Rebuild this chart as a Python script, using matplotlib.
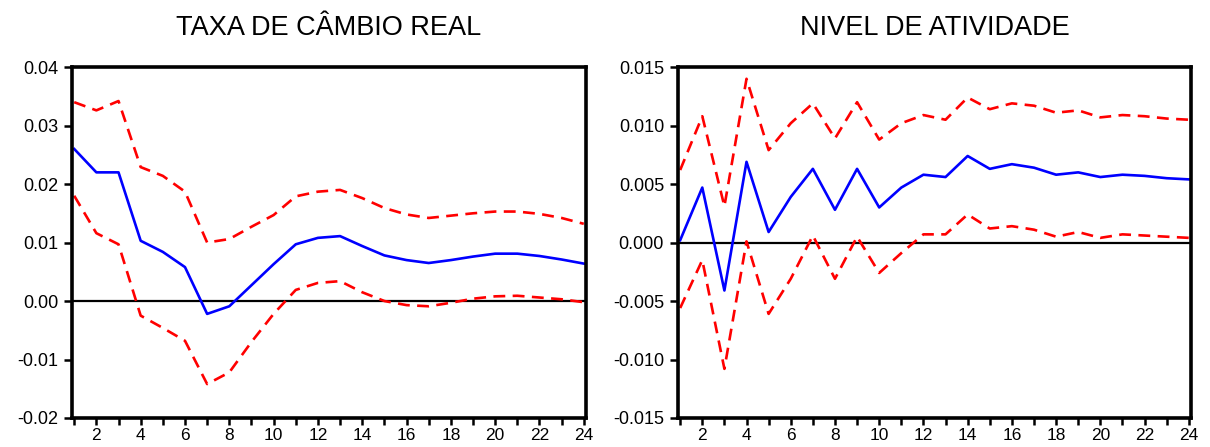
import numpy as np
import matplotlib
matplotlib.use('Agg')
import matplotlib.pyplot as plt

plt.rcParams['font.family'] = ['Liberation Sans', 'DejaVu Sans']

# Horizons 1..24
periods = list(range(1, 25))

# TAXA DE CAMBIO REAL
cambio_resp = [0.0260, 0.0220, 0.0220, 0.0103, 0.0084, 0.0058, -0.0022, -0.0009,
               0.0027, 0.0063, 0.0097, 0.0108, 0.0111, 0.0094, 0.0078, 0.0070,
               0.0065, 0.0070, 0.0076, 0.0081, 0.0081, 0.0077, 0.0071, 0.0064]
cambio_upper = [0.0340, 0.0326, 0.0342, 0.0229, 0.0214, 0.0187, 0.0100, 0.0106,
                0.0127, 0.0147, 0.0179, 0.0187, 0.0190, 0.0176, 0.0159, 0.0148,
                0.0142, 0.0146, 0.0150, 0.0153, 0.0153, 0.0149, 0.0142, 0.0132]
cambio_lower = [0.0180, 0.0116, 0.0097, -0.0025, -0.0046, -0.0068, -0.0142, -0.0122,
                -0.0070, -0.0022, 0.0019, 0.0031, 0.0034, 0.0015, 0.0000, -0.0007,
                -0.0009, -0.0003, 0.0004, 0.0008, 0.0009, 0.0006, 0.0003, -0.0002]

# NIVEL DE ATIVIDADE
ativ_resp = [0.0002, 0.0047, -0.0041, 0.0069, 0.0009, 0.0039, 0.0063, 0.0028,
             0.0063, 0.0030, 0.0047, 0.0058, 0.0056, 0.0074, 0.0063, 0.0067,
             0.0064, 0.0058, 0.0060, 0.0056, 0.0058, 0.0057, 0.0055, 0.0054]
ativ_upper = [0.0062, 0.0108, 0.0031, 0.0140, 0.0079, 0.0102, 0.0119, 0.0089,
              0.0120, 0.0088, 0.0102, 0.0109, 0.0105, 0.0124, 0.0114, 0.0119,
              0.0117, 0.0111, 0.0113, 0.0107, 0.0109, 0.0108, 0.0106, 0.0105]
ativ_lower = [-0.0056, -0.0015, -0.0108, 0.0001, -0.0061, -0.0031, 0.0006, -0.0031,
              0.0005, -0.0026, -0.0009, 0.0007, 0.0007, 0.0024, 0.0012, 0.0014,
              0.0011, 0.0005, 0.0009, 0.0004, 0.0007, 0.0006, 0.0005, 0.0004]

titles = ['TAXA DE CÂMBIO REAL', 'NIVEL DE ATIVIDADE']
y_ticks_left = [-0.02, -0.01, 0.00, 0.01, 0.02, 0.03, 0.04]
y_ticks_right = [-0.015, -0.010, -0.005, 0.000, 0.005, 0.010, 0.015]

fig = plt.figure(figsize=(12.10, 4.47), dpi=100)
ax1 = fig.add_axes([0.0595, 0.0649, 0.4248, 0.785])
ax2 = fig.add_axes([0.5603, 0.0649, 0.4240, 0.785])

panels = [
    (ax1, cambio_resp, cambio_upper, cambio_lower, y_ticks_left, '%.2f'),
    (ax2, ativ_resp, ativ_upper, ativ_lower, y_ticks_right, '%.3f'),
]

for i, (ax, resp, up, lo, yt, fmt) in enumerate(panels):
    ax.axhline(0, color='black', lw=1.6, zorder=1)
    ax.plot(periods, up, color='red', lw=1.9, linestyle=(0, (4.5, 2.8)))
    ax.plot(periods, lo, color='red', lw=1.9, linestyle=(0, (4.5, 2.8)))
    ax.plot(periods, resp, color='blue', lw=1.9)
    ax.set_xlim(0.9, 24.1)
    ax.set_ylim(yt[0], yt[-1])
    ax.set_yticks(yt)
    ax.set_yticklabels([fmt % v for v in yt])
    ax.set_xticks(periods, minor=True)
    ax.set_xticks(periods[1::2])
    ax.tick_params(axis='x', which='both', direction='out', length=5, width=1.8,
                   labelsize=12.5, pad=2.5)
    ax.tick_params(axis='y', direction='out', length=6, width=1.8, labelsize=13, pad=4)
    for s in ax.spines.values():
        s.set_linewidth(2.6)
    ax.set_title(titles[i], fontsize=19.5, pad=23)

fig.savefig('out.png', dpi=100)
